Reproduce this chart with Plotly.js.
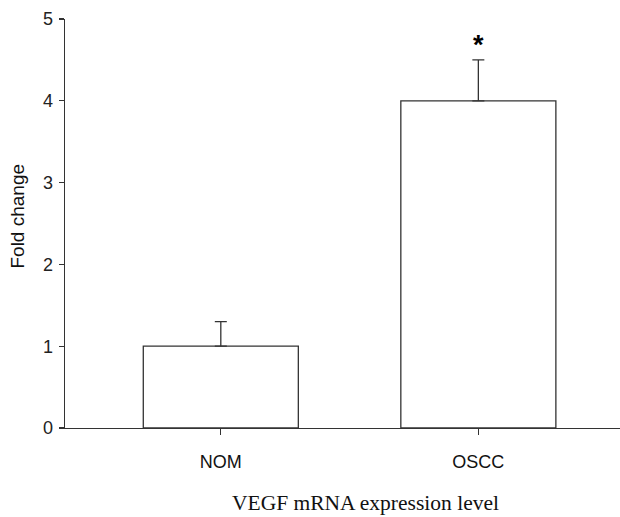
<!DOCTYPE html>
<html>
<head>
<meta charset="utf-8">
<script src="https://cdn.plot.ly/plotly-3.0.1.min.js"></script>
<style>html,body{margin:0;padding:0;background:#fff;}#chart{width:620px;height:517px;}</style>
</head>
<body>
<div id="chart"></div>
<script>
const categories = ["NOM", "OSCC"];
const foldChange = [1.0, 4.0];
const errorUpper = [0.3, 0.5];
const significance = ["", "*"];
const yTicks = [0, 1, 2, 3, 4, 5];
const xTitle = "VEGF mRNA expression level";
const yTitle = "Fold change";

const lineCol = "#333333";

const trace = {
  type: "bar",
  x: categories,
  y: foldChange,
  width: 0.602,
  marker: { color: "#ffffff", line: { color: lineCol, width: 1.3 } },
  error_y: { type: "data", symmetric: false, array: errorUpper, arrayminus: [0, 0], color: lineCol, thickness: 1.3, width: 6 },
  hoverinfo: "none"
};

const annotations = [];
categories.forEach((c, i) => {
  if (significance[i]) {
    annotations.push({
      x: c, y: foldChange[i] + errorUpper[i], xref: "x", yref: "y",
      text: "<b>" + significance[i] + "</b>", showarrow: false,
      yanchor: "bottom", yshift: -2,
      font: { family: "Liberation Sans, Arial, sans-serif", size: 27, color: "#000" }
    });
  }
});
// axis titles placed as in the (cropped) reference figure
annotations.push({
  xref: "paper", yref: "paper", x: 0.542, y: -0.217, xanchor: "center", yanchor: "bottom",
  text: xTitle, showarrow: false,
  font: { family: "Liberation Serif, Times New Roman, serif", size: 21.5, color: "#111" }
});
annotations.push({
  xref: "paper", yref: "paper", x: 0, y: 0.517, xanchor: "center", yanchor: "middle",
  xshift: -47, textangle: -90, text: yTitle, showarrow: false,
  font: { family: "Liberation Sans, Arial, sans-serif", size: 19, color: "#111" }
});

const layout = {
  width: 620, height: 517,
  margin: { l: 65, r: 0, t: 19, b: 89 },
  paper_bgcolor: "#fff", plot_bgcolor: "#fff",
  showlegend: false,
  xaxis: {
    type: "category",
    range: [-0.605, 1.55],
    showline: true, linecolor: lineCol, linewidth: 1.3,
    ticks: "outside", ticklen: 6, tickcolor: lineCol, tickwidth: 1.3,
    ticklabelstandoff: 11,
    showgrid: false, zeroline: false,
    tickfont: { family: "Liberation Sans, Arial, sans-serif", size: 18, color: "#111" }
  },
  yaxis: {
    range: [0, 5],
    tickvals: yTicks,
    showline: true, linecolor: lineCol, linewidth: 1.3,
    ticks: "outside", ticklen: 5, tickcolor: lineCol, tickwidth: 1.3,
    ticklabelstandoff: 2,
    showgrid: false, zeroline: false,
    tickfont: { family: "Liberation Sans, Arial, sans-serif", size: 18, color: "#222" }
  },
  annotations: annotations
};

Plotly.newPlot("chart", [trace], layout, { staticPlot: true, displayModeBar: false });
</script>
</body>
</html>
